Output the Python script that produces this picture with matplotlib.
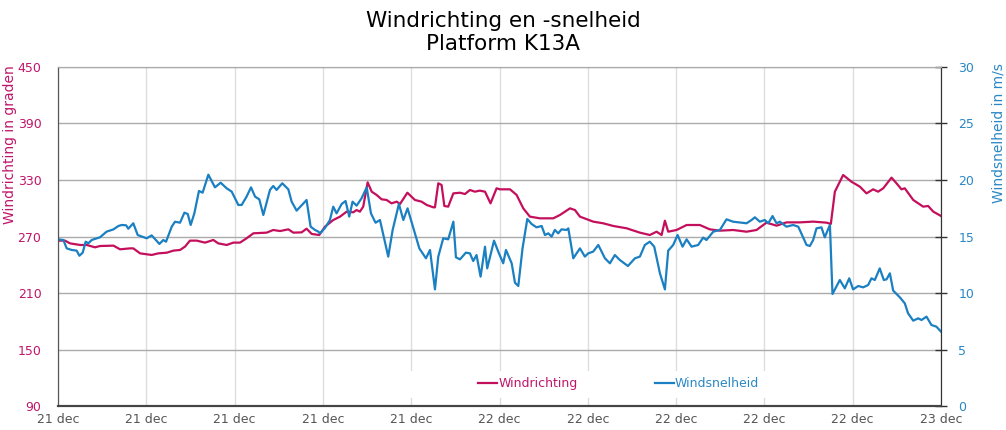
import matplotlib
matplotlib.use('Agg')
import matplotlib.pyplot as plt
from matplotlib.patches import Rectangle

# hours since 21 dec 00:00
dir_hours = [0.0, 0.38, 0.65, 1.20, 1.56, 2.01, 2.28, 3.01, 3.37, 3.91,
             4.09, 4.46, 5.09, 5.45, 5.91, 6.27, 6.63, 6.90, 7.17, 7.54,
             7.99, 8.44, 8.71, 9.17, 9.53, 9.89, 10.25, 10.62, 11.34, 11.70,
             12.07, 12.52, 12.79, 13.24, 13.51, 13.79, 14.20, 14.51, 14.96, 15.33,
             15.69, 16.05, 16.23, 16.41, 16.59, 16.83, 17.05, 17.32, 17.59, 17.86,
             18.13, 18.41, 18.59, 18.99, 19.40, 19.76, 20.04, 20.40, 20.49, 20.67,
             20.85, 21.00, 21.21, 21.49, 21.85, 22.12, 22.39, 22.66, 22.93, 23.21,
             23.51, 23.84,
             24.02, 24.57, 24.93, 25.29, 25.65, 26.20, 26.92, 27.28, 27.83, 28.10,
             28.37, 29.09, 29.64, 30.18, 30.91, 31.63, 32.17, 32.54, 32.81, 32.99,
             33.17, 33.62, 34.17, 34.89, 35.43, 35.98, 36.70, 37.43, 37.97, 38.51,
             39.06, 39.60, 40.33, 41.05, 41.78, 42.01, 42.23, 42.68, 43.13, 43.59,
             43.95, 44.31, 44.58, 44.86, 45.31, 45.58, 45.85, 46.03, 46.49, 47.03,
             47.30, 47.58, 48.0]
dir_deg = [265.6, 265.6, 262.7, 261.0, 261.0, 258.5, 259.9, 260.3, 256.4, 257.4,
           257.4, 252.1, 250.4, 252.1, 252.8, 255.0, 255.7, 259.2, 265.6, 265.6,
           263.5, 266.3, 262.7, 261.0, 263.5, 263.5, 268.1, 273.4, 274.1, 276.9,
           275.8, 277.6, 274.1, 274.4, 278.3, 272.7, 271.6, 280.4, 287.5, 291.1,
           296.4, 295.7, 298.1, 296.4, 301.7, 327.5, 317.6, 314.1, 309.5, 308.8,
           305.2, 307.0, 304.5, 316.5, 308.8, 307.0, 303.5, 301.0, 301.0, 326.5,
           324.7, 302.4, 301.7, 315.8, 316.5, 315.1, 319.4, 317.6, 318.7, 317.6,
           305.2, 321.2,
           320.1, 320.1, 314.1, 299.9, 291.1, 289.3, 289.3, 292.8, 299.9, 298.1,
           291.1, 285.8, 284.0, 281.2, 278.7, 274.1, 271.6, 275.1, 271.6, 286.8,
           275.1, 276.9, 282.2, 282.2, 277.6, 276.2, 276.9, 275.1, 276.9, 284.7,
           281.5, 285.0, 285.0, 285.8, 284.7, 283.3, 317.6, 335.3, 328.2, 322.9,
           315.8, 320.1, 317.6, 321.2, 332.5, 326.5, 320.1, 321.2, 308.8, 301.7,
           302.4, 296.4, 291.8]

speed_hours = [0.0, 0.29, 0.47, 0.74, 1.01, 1.16, 1.34, 1.50, 1.65, 1.83,
               2.28, 2.64, 3.01, 3.28, 3.46, 3.70, 3.82, 4.09, 4.33, 4.82,
               5.09, 5.51, 5.72, 5.87, 6.18, 6.36, 6.63, 6.87, 7.05, 7.21,
               7.41, 7.66, 7.86, 8.17, 8.53, 8.84, 9.17, 9.44, 9.80, 9.98,
               10.25, 10.49, 10.71, 10.94, 11.16, 11.52, 11.70, 11.88, 12.19, 12.52,
               12.70, 12.97, 13.51, 13.73, 13.97, 14.15, 14.24, 14.51, 14.78, 14.96,
               15.14, 15.42, 15.63, 15.83, 16.01, 16.23, 16.50, 16.78, 17.01, 17.26,
               17.50, 17.95, 18.19, 18.53, 18.77, 19.00, 19.40, 19.64, 20.00, 20.22,
               20.49, 20.67, 20.94, 21.21, 21.49, 21.63, 21.85, 22.17, 22.39, 22.57,
               22.75, 22.97, 23.21, 23.33, 23.70, 23.97,
               24.20, 24.35, 24.66, 24.84, 25.02, 25.25, 25.51, 25.74, 26.01, 26.29,
               26.47, 26.65, 26.83, 27.01, 27.19, 27.37, 27.64, 27.74, 28.01, 28.37,
               28.64, 28.82, 29.09, 29.37, 29.73, 30.00, 30.27, 30.54, 30.98, 31.36,
               31.63, 31.90, 32.17, 32.41, 32.72, 32.99, 33.17, 33.44, 33.68, 33.95,
               34.17, 34.44, 34.80, 35.07, 35.25, 35.62, 35.98, 36.34, 36.70, 37.43,
               37.70, 37.88, 38.15, 38.42, 38.61, 38.84, 39.06, 39.24, 39.60, 39.96,
               40.24, 40.69, 40.87, 41.05, 41.23, 41.50, 41.68, 41.96, 42.10, 42.50,
               42.77, 43.01, 43.22, 43.50, 43.77, 44.04, 44.22, 44.40, 44.67, 44.89,
               45.04, 45.22, 45.40, 45.76, 46.03, 46.21, 46.49, 46.76, 46.94, 47.21,
               47.48, 47.75, 48.0]
speed_ms = [14.75, 14.69, 13.95, 13.81, 13.75, 13.30, 13.57, 14.54, 14.40, 14.69,
            14.93, 15.43, 15.63, 15.93, 16.02, 15.99, 15.69, 16.17, 15.13, 14.84,
            15.10, 14.34, 14.69, 14.54, 15.87, 16.31, 16.22, 17.11, 16.99, 16.02,
            17.05, 19.03, 18.88, 20.47, 19.35, 19.76, 19.26, 18.97, 17.79, 17.79,
            18.53, 19.35, 18.53, 18.29, 16.90, 19.12, 19.47, 19.12, 19.71, 19.17,
            18.08, 17.29, 18.23, 15.87, 15.58, 15.43, 15.28, 15.75, 16.46, 17.64,
            17.05, 17.88, 18.14, 16.76, 18.08, 17.73, 18.38, 19.35, 17.05, 16.22,
            16.46, 13.22, 15.58, 17.88, 16.46, 17.49, 15.28, 13.95, 13.07, 13.81,
            10.32, 13.22, 14.84, 14.75, 16.31, 13.16, 12.98, 13.57, 13.51, 12.83,
            13.36, 11.45, 14.10, 12.18, 14.63, 13.5,
            12.63, 13.81, 12.63, 10.91, 10.62, 13.95, 16.55, 16.11, 15.81, 15.93,
            15.13, 15.28, 14.99, 15.58, 15.28, 15.63, 15.58, 15.72, 13.07, 13.95,
            13.22, 13.51, 13.66, 14.25, 13.07, 12.63, 13.36, 12.92, 12.39, 13.07,
            13.22, 14.25, 14.54, 14.10, 11.74, 10.32, 13.75, 14.25, 15.13, 14.10,
            14.75, 14.10, 14.25, 14.90, 14.69, 15.43, 15.58, 16.52, 16.31, 16.17,
            16.46, 16.70, 16.31, 16.46, 16.17, 16.81, 16.17, 16.31, 15.87, 16.02,
            15.87, 14.25, 14.16, 14.69, 15.72, 15.81, 14.93, 16.02, 9.91, 11.15,
            10.41, 11.30, 10.32, 10.62, 10.50, 10.71, 11.30, 11.15, 12.18, 11.15,
            11.21, 11.74, 10.21, 9.62, 9.09, 8.20, 7.55, 7.76, 7.61, 7.91,
            7.17, 7.02, 6.58]

tick_hours = [0, 4.8, 9.6, 14.4, 19.2, 24, 28.8, 33.6, 38.4, 43.2, 48]
tick_labels = ['21 dec'] * 5 + ['22 dec'] * 5 + ['23 dec']

red = '#c40f5c'
blue = '#1a80c2'
red_txt = '#c0156a'
blue_txt = '#2a87c5'

fig = plt.figure(figsize=(10.06, 4.30), dpi=100)
ax = fig.add_axes([0.0577, 0.0558, 0.8777, 0.7884])
ax2 = ax.twinx()

ax.plot(dir_hours, dir_deg, color=red, lw=1.6, label='Windrichting')
ax2.plot(speed_hours, speed_ms, color=blue, lw=1.6, label='Windsnelheid')

ax.set_xlim(0, 48)
ax.set_ylim(90, 450)
ax2.set_ylim(0, 30)
ax.set_yticks(range(90, 451, 60))
ax2.set_yticks(range(0, 31, 5))
ax.set_xticks(tick_hours)
ax.set_xticklabels(tick_labels)

ax.grid(axis='y', color='#ababab', lw=1)
ax.grid(axis='x', color='#dddddd', lw=1)
ax.set_axisbelow(True)

ax.tick_params(axis='y', length=0, pad=12, labelsize=9, labelcolor=red_txt)
ax.tick_params(axis='x', length=0, pad=5, labelsize=9, labelcolor='#555555')
ax2.tick_params(axis='y', direction='inout', length=9, width=1, color='#333333',
                pad=8, labelsize=9, labelcolor=blue_txt)

for a in (ax, ax2):
    a.spines['top'].set_color('#ababab')
    a.spines['left'].set_color('#555555')
    a.spines['bottom'].set_color('#444444')
    a.spines['bottom'].set_linewidth(1.5)
    a.spines['right'].set_color('#333333')

ax.set_ylabel('Windrichting in graden', color=red_txt, fontsize=10, loc='top')
ax.yaxis.set_label_coords(-0.047, 1.005)
ax2.set_ylabel('Windsnelheid in m/s', color=blue_txt, fontsize=10, loc='top')
ax2.yaxis.set_label_coords(1.057, 1.012)

fig.suptitle('Windrichting en -snelheid\nPlatform K13A', fontsize=15.5, y=0.975,
             linespacing=1.2)

# white box behind the legend
ax2.add_patch(Rectangle((0.399, 0.024), 0.43, 0.079, transform=ax2.transAxes,
                        facecolor='white', edgecolor='none', zorder=0.5))
h1, l1 = ax.get_legend_handles_labels()
h2, l2 = ax2.get_legend_handles_labels()
leg = ax2.legend(h1 + h2, l1 + l2, loc='center', bbox_to_anchor=(0.635, 0.065),
                 ncol=2, frameon=False, fontsize=9, handlelength=1.5,
                 handletextpad=0.1, columnspacing=6.2)
for txt, c in zip(leg.get_texts(), [red_txt, blue_txt]):
    txt.set_color(c)

fig.savefig('out.png', dpi=100)
